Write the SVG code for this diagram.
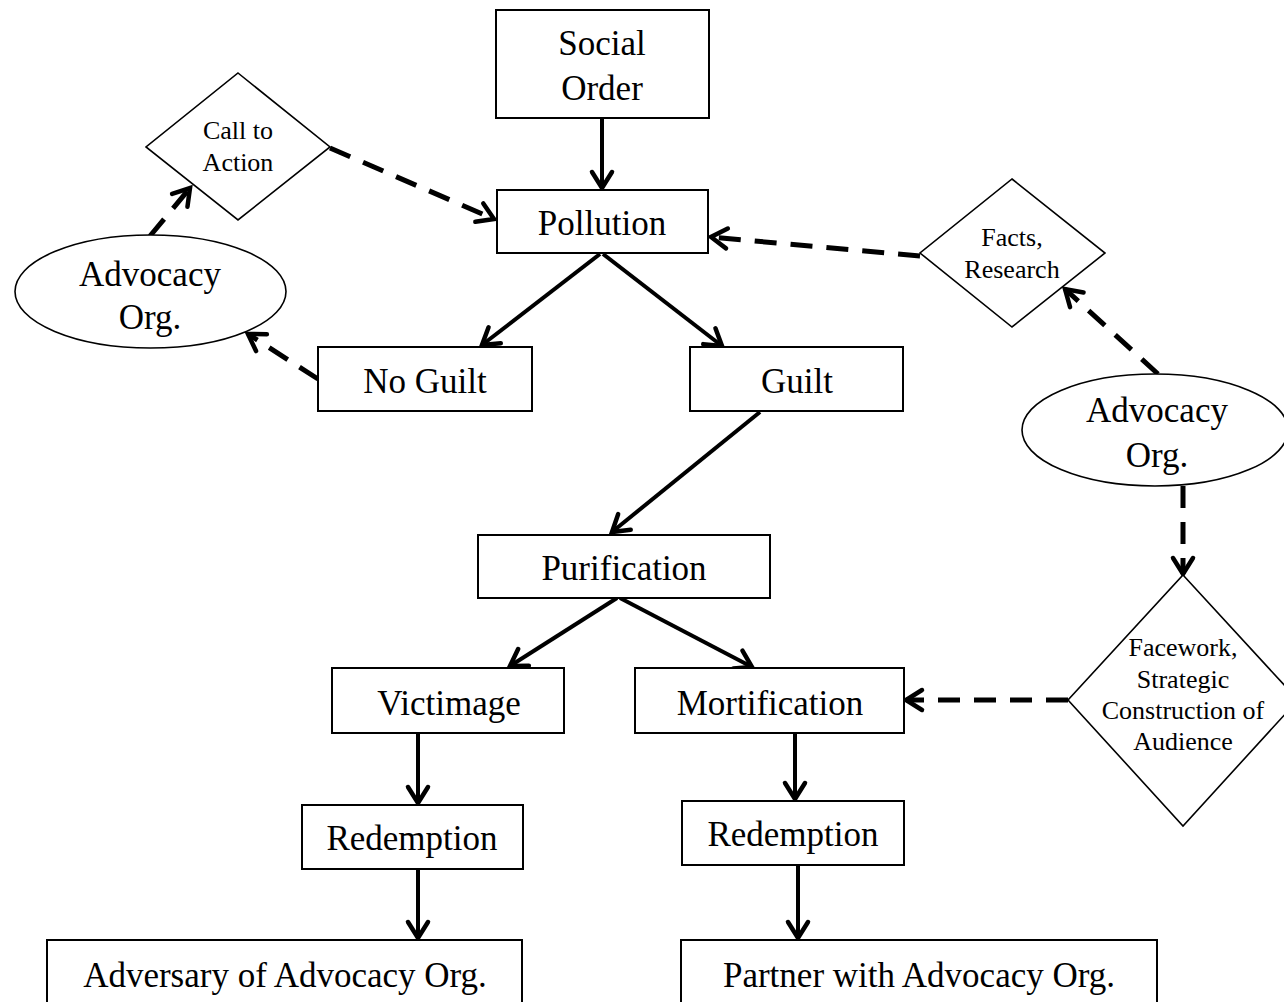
<svg xmlns="http://www.w3.org/2000/svg" width="1284" height="1002" viewBox="0 0 1284 1002">
<style>
.box{fill:#fff;stroke:#000;stroke-width:2}
.shp{fill:#fff;stroke:#000;stroke-width:1.6}
.big{font-family:"Liberation Serif",serif;font-size:35px;text-anchor:middle;fill:#000}
.sm{font-family:"Liberation Serif",serif;font-size:26px;text-anchor:middle;fill:#000}
.solid{stroke:#000;stroke-width:4;fill:none;marker-end:url(#ah)}
.dash{stroke:#000;stroke-width:5;fill:none;stroke-dasharray:22 14;marker-end:url(#ah)}
</style>
<defs>
<marker id="ah" markerUnits="userSpaceOnUse" viewBox="0 0 28 28" markerWidth="28" markerHeight="28" refX="23" refY="14" orient="auto">
<path d="M7,4 L23,14 L7,24" fill="none" stroke="#000" stroke-width="4.5" stroke-linecap="round" stroke-linejoin="miter"/>
</marker>
</defs>
<g id="connectors">
<line class="solid" x1="602" y1="118" x2="602" y2="188"/>
<line class="solid" x1="600" y1="254" x2="482" y2="345"/>
<line class="solid" x1="603" y1="254" x2="722" y2="346"/>
<line class="solid" x1="760" y1="412" x2="612" y2="532"/>
<line class="solid" x1="617" y1="598" x2="510" y2="666"/>
<line class="solid" x1="620" y1="598" x2="752" y2="667"/>
<line class="solid" x1="418" y1="733" x2="418" y2="803"/>
<line class="solid" x1="795" y1="733" x2="795" y2="799"/>
<line class="solid" x1="418" y1="869" x2="418" y2="938"/>
<line class="solid" x1="798" y1="865" x2="798" y2="938"/>
<line class="dash" x1="330" y1="148" x2="494" y2="219"/>
<line class="dash" x1="150" y1="236" x2="190" y2="188"/>
<line class="dash" x1="318" y1="379" x2="248" y2="334"/>
<line class="dash" x1="920" y1="256" x2="711" y2="237"/>
<line class="dash" x1="1158" y1="374" x2="1065" y2="289"/>
<line class="dash" x1="1183" y1="486" x2="1183" y2="574"/>
<line class="dash" x1="1068" y1="700" x2="906" y2="700"/>
</g>
<g id="social-order"><rect class="box" x="496" y="10" width="213" height="108"/><text class="big" x="602" y="55">Social</text><text class="big" x="602" y="100">Order</text></g>
<g id="pollution"><rect class="box" x="497" y="190" width="211" height="63"/><text class="big" x="602" y="235">Pollution</text></g>
<g id="call-to-action"><polygon class="shp" points="238,73 330,147 238,220 146,147"/><text class="sm" x="238" y="139">Call to</text><text class="sm" x="238" y="171">Action</text></g>
<g id="advocacy-left"><ellipse class="shp" cx="150.5" cy="291.5" rx="135.5" ry="56.5"/><text class="big" x="150" y="286">Advocacy</text><text class="big" x="150" y="329">Org.</text></g>
<g id="no-guilt"><rect class="box" x="318" y="347" width="214" height="64"/><text class="big" x="425" y="393">No Guilt</text></g>
<g id="guilt"><rect class="box" x="690" y="347" width="213" height="64"/><text class="big" x="797" y="393">Guilt</text></g>
<g id="facts-research"><polygon class="shp" points="1012,179 1105,253 1012,327 920,253"/><text class="sm" x="1012" y="246">Facts,</text><text class="sm" x="1012" y="278">Research</text></g>
<g id="advocacy-right"><ellipse class="shp" cx="1155" cy="430" rx="133" ry="56"/><text class="big" x="1157" y="422">Advocacy</text><text class="big" x="1157" y="467">Org.</text></g>
<g id="facework"><polygon class="shp" points="1183,575 1298,700 1183,826 1068,700"/><text class="sm" x="1183" y="656">Facework,</text><text class="sm" x="1183" y="688">Strategic</text><text class="sm" x="1183" y="719">Construction of</text><text class="sm" x="1183" y="750">Audience</text></g>
<g id="purification"><rect class="box" x="478" y="535" width="292" height="63"/><text class="big" x="624" y="580">Purification</text></g>
<g id="victimage"><rect class="box" x="332" y="668" width="232" height="65"/><text class="big" x="449" y="715">Victimage</text></g>
<g id="mortification"><rect class="box" x="635" y="668" width="269" height="65"/><text class="big" x="770" y="715">Mortification</text></g>
<g id="redemption-left"><rect class="box" x="302" y="805" width="221" height="64"/><text class="big" x="412" y="850">Redemption</text></g>
<g id="redemption-right"><rect class="box" x="682" y="801" width="222" height="64"/><text class="big" x="793" y="846">Redemption</text></g>
<g id="adversary"><rect class="box" x="47" y="940" width="475" height="70"/><text class="big" x="285" y="987">Adversary of Advocacy Org.</text></g>
<g id="partner"><rect class="box" x="681" y="940" width="476" height="70"/><text class="big" x="919" y="987">Partner with Advocacy Org.</text></g>
</svg>
